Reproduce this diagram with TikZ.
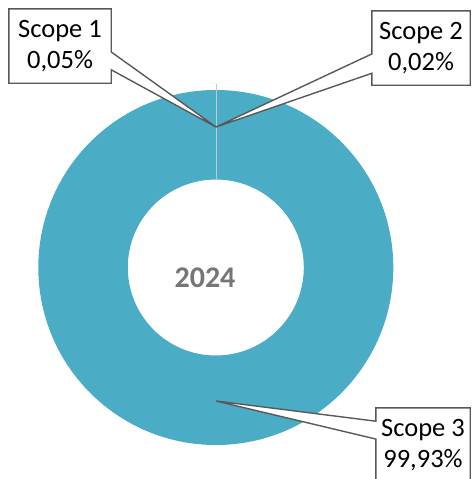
\documentclass[tikz,border=0pt]{standalone}
\usepackage{fontspec}
\setmainfont{Carlito}
\usepackage{tikz}
\usetikzlibrary{calc, backgrounds}

\definecolor{ringblue}{HTML}{4BACC6}
\definecolor{calloutgrey}{HTML}{595959}
\definecolor{yeargrey}{HTML}{767676}

\begin{document}
\begin{tikzpicture}[x=1pt, y=-1pt,
    label box/.style={minimum width=100pt, minimum height=74pt, inner sep=0pt,
      align=center, font=\fontsize{26.5}{31}\selectfont},
    callout line/.style={draw=calloutgrey, line width=1.4pt, fill=white, line join=miter}]
  \useasboundingbox (0,0) rectangle (471,479);

  %year
  \node[font=\fontsize{30}{36}\selectfont\bfseries, text=yeargrey] (year) at (205,277.5) {2024};

  %tips
  \coordinate (tip top) at (216,127);
  \coordinate (tip bottom) at (216,401);

  %labels
  \node[label box, minimum width=102pt] (scope1) at (60,46) {Scope 1\\0,05\%};
  \node[label box, minimum width=98pt] (scope2) at (421,48) {Scope 2\\0,02\%};
  \node[label box, minimum width=94pt] (scope3) at (423,445) {Scope 3\\99,93\%};

  \begin{scope}[on background layer]
    %donut
    \fill[ringblue, even odd rule] (215.8,267.5) circle[radius=177.5pt]
      (215.8,267.5) circle[radius=88pt];
    \draw[black!22, line width=0.9pt] (216,84) -- (216,180);

    % callouts
    \draw[callout line] (scope1.north west) -- (scope1.north east)
      -- ($(scope1.north east)!.58!(scope1.south east)$) -- (tip top)
      -- ($(scope1.north east)!.82!(scope1.south east)$)
      -- (scope1.south east) -- (scope1.south west) -- cycle;
    \draw[callout line] (scope2.north east) -- (scope2.north west)
      -- ($(scope2.north west)!.58!(scope2.south west)$) -- (tip top)
      -- ($(scope2.north west)!.84!(scope2.south west)$)
      -- (scope2.south west) -- (scope2.south east) -- cycle;
    \draw[callout line] (scope3.north east) -- (scope3.north west)
      -- ($(scope3.north west)!.18!(scope3.south west)$) -- (tip bottom)
      -- ($(scope3.north west)!.42!(scope3.south west)$)
      -- (scope3.south west) -- (scope3.south east) -- cycle;
  \end{scope}
\end{tikzpicture}
\end{document}
